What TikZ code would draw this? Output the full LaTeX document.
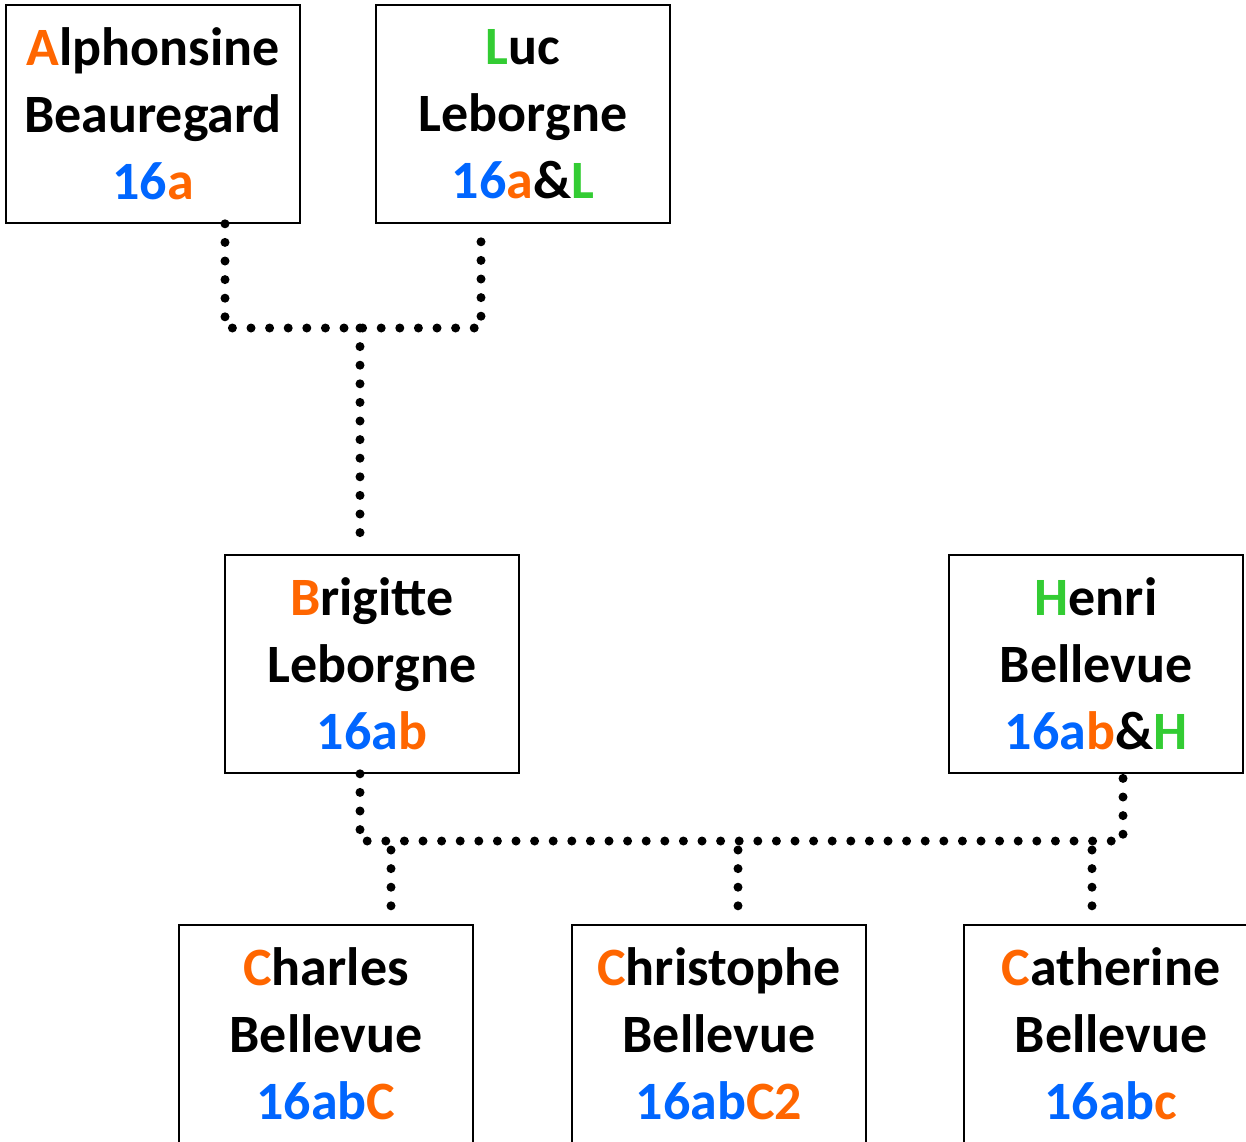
\documentclass[tikz,border=0pt]{standalone}
\usepackage{fontspec}
\setmainfont{Carlito}
\usetikzlibrary{calc}
\definecolor{orn}{RGB}{255,102,0}
\definecolor{blu}{RGB}{0,102,255}
\definecolor{grn}{RGB}{51,204,51}
\begin{document}
\begin{tikzpicture}[x=1pt,y=-1pt,
  person/.style={draw=black, line width=1.6pt, minimum width=294pt, minimum height=218pt,
    inner sep=0pt, align=center, font=\fontsize{54}{67}\selectfont\bfseries},
  link/.style={line width=9pt, line cap=round, dash pattern=on 0pt off 18.6pt}]
\useasboundingbox (0,0) rectangle (1246,1141);
\clip (0,0) rectangle (1246,1141);
\fill[white] (0,0) rectangle (1246,1141);
\node[person] (alph) at (153,114) {\textcolor{orn}{A}lphonsine\\Beauregard\\\textcolor{blu}{16}\textcolor{orn}{a}};
\node[person] (luc) at (523,114) {\textcolor{grn}{L}uc\\Leborgne\\\textcolor{blu}{16}\textcolor{orn}{a}\&\textcolor{grn}{L}};
\node[person] (brig) at (372,664) {\textcolor{orn}{B}rigitte\\Leborgne\\\textcolor{blu}{16a}\textcolor{orn}{b}};
\node[person] (henri) at (1096,664) {\textcolor{grn}{H}enri\\Bellevue\\\textcolor{blu}{16a}\textcolor{orn}{b}\&\textcolor{grn}{H}};
\node[person] (charles) at (326,1034) {\textcolor{orn}{C}harles\\Bellevue\\\textcolor{blu}{16ab}\textcolor{orn}{C}};
\node[person] (chris) at (719,1034) {\textcolor{orn}{C}hristophe\\Bellevue\\\textcolor{blu}{16ab}\textcolor{orn}{C2}};
\node[person] (cath) at (1111,1034) {\textcolor{orn}{C}atherine\\Bellevue\\\textcolor{blu}{16ab}\textcolor{orn}{c}};
% top family
\coordinate (as) at ($(alph.south)+(72,0)$);
\coordinate (ls) at ($(luc.south)+(-42,0)$);
\coordinate (j1) at (360,328);
\draw[link] (as) |- (j1) -| (ls);
\draw[link, shorten >=17pt] (j1) -- (j1 |- brig.north);
% bottom family
\coordinate (bs) at ($(brig.south)+(-12,0)$);
\coordinate (hs) at ($(henri.south)+(27,0)$);
\coordinate (bar) at (0,841);
\draw[link] (bs) |- (bar -| hs) -- (hs);
\coordinate (cn) at ($(charles.north)+(65,0)$);
\coordinate (xn) at ($(chris.north)+(19,0)$);
\coordinate (tn) at ($(cath.north)+(-19,0)$);
\draw[link, shorten >=6pt] ($(bar -| cn)+(0,9)$) -- (cn);
\draw[link, shorten >=17pt] ($(bar -| xn)+(0,9)$) -- (xn);
\draw[link, shorten >=17pt] ($(bar -| tn)+(0,9)$) -- (tn);
\end{tikzpicture}
\end{document}
